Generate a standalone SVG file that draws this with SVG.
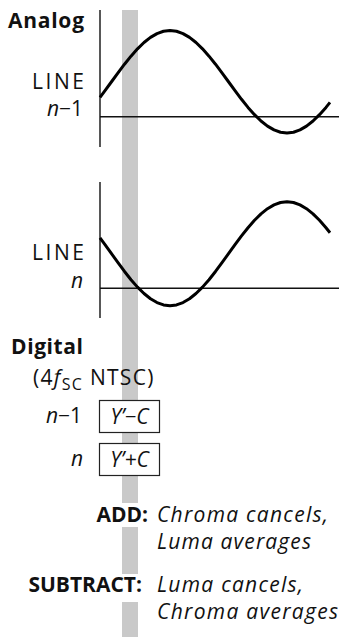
<svg xmlns="http://www.w3.org/2000/svg" width="341" height="641" viewBox="0 0 341 641">
<style>
text{font-family:"Open Sans","Noto Sans","Liberation Sans",sans-serif;font-size:21px;fill:#111}
.b{font-weight:bold}
.i{font-style:italic}
.ax{stroke:#111;stroke-width:1.4;fill:none}
.wave{stroke:#000;stroke-width:3;fill:none;stroke-linejoin:round;stroke-linecap:butt}
.box{fill:#fff;stroke:#222;stroke-width:1.2}
</style>
<rect width="341" height="641" fill="#fff"/>
<g id="bar">
<rect x="122" y="10" width="16" height="627" fill="#c9c9c9"/>
<rect x="118" y="503" width="26" height="24" fill="#fff"/>
<rect x="118" y="574" width="26" height="28" fill="#fff"/>
</g>
<g id="analog">
<text class="b" x="8" y="28" font-size="22" textLength="76">Analog</text>
<g id="line-n-1">
<text x="32" y="88.5" font-size="22" textLength="52">LINE</text>
<text x="83" y="115.5" font-size="22" text-anchor="end"><tspan class="i">n</tspan>−1</text>
<line class="ax" x1="100" y1="10" x2="100" y2="147"/>
<line class="ax" x1="100" y1="116.7" x2="339" y2="116.7"/>
<polyline class="wave" points="100,97.33 105,90.65 111.5,81.75 118,72.85 124.5,64.22 131,56.13 137.5,48.81 144,42.49 150.5,37.37 157,33.59 163.5,31.28 170,30.5 176.5,31.28 183,33.59 189.5,37.37 196,42.49 202.5,48.81 209,56.13 215.5,64.22 222,72.85 228.5,81.75 235,90.65 241.5,99.28 248,107.38 254.5,114.69 261,121.01 267.5,126.13 274,129.91 280.5,132.22 287,133 293.5,132.22 300,129.91 306.5,126.13 313,121.01 319.5,114.69 326,107.38 330,102.43"/>
</g>
<g id="line-n">
<text x="32" y="259.5" font-size="22" textLength="52">LINE</text>
<text x="83" y="288" font-size="22" text-anchor="end" class="i">n</text>
<line class="ax" x1="100" y1="182" x2="100" y2="318"/>
<line class="ax" x1="100" y1="288.3" x2="339" y2="288.3"/>
<polyline class="wave" points="100,237.89 105,244.67 111.5,253.7 118,262.73 124.5,271.48 131,279.7 137.5,287.13 144,293.53 150.5,298.73 157,302.56 163.5,304.91 170,305.7 176.5,304.91 183,302.56 189.5,298.73 196,293.53 202.5,287.13 209,279.7 215.5,271.48 222,262.73 228.5,253.7 235,244.67 241.5,235.92 248,227.7 254.5,220.27 261,213.87 267.5,208.67 274,204.84 280.5,202.49 287,201.7 293.5,202.49 300,204.84 306.5,208.67 313,213.87 319.5,220.27 326,227.7 330,232.72"/>
</g>
</g>
<g id="digital">
<text class="b" x="11" y="354" font-size="22.5" textLength="72">Digital</text>
<text x="33" y="385" letter-spacing="1.3">(4<tspan class="i">f</tspan><tspan font-size="16" dy="5">SC</tspan><tspan dy="-5"> NTSC)</tspan></text>
<g id="sample-n-1">
<text x="82" y="423" font-size="22" text-anchor="end"><tspan class="i">n</tspan>−1</text>
<rect class="box" x="99.5" y="400.5" width="60" height="32"/>
<text class="i" x="129.5" y="424" font-size="22" text-anchor="middle">Y’−C</text>
</g>
<g id="sample-n">
<text x="83" y="466" font-size="22" text-anchor="end" class="i">n</text>
<rect class="box" x="99.5" y="443.5" width="60" height="32"/>
<text class="i" x="129.5" y="467" font-size="22" text-anchor="middle">Y’+C</text>
</g>
</g>
<g id="add">
<text class="b" x="148" y="522" font-size="23" text-anchor="end">ADD:</text>
<text class="i" x="157" y="522" font-size="21" textLength="171">Chroma cancels,</text>
<text class="i" x="157" y="549" font-size="21" textLength="154">Luma averages</text>
</g>
<g id="subtract">
<text class="b" x="142" y="592" font-size="22" text-anchor="end">SUBTRACT:</text>
<text class="i" x="157" y="592" font-size="21" textLength="146">Luma cancels,</text>
<text class="i" x="157" y="619" font-size="21" textLength="181">Chroma averages</text>
</g>
</svg>
